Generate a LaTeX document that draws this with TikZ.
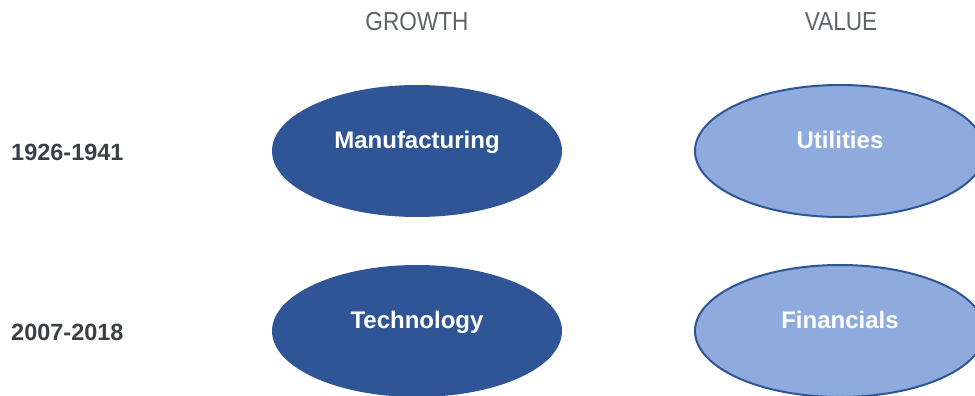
\documentclass[tikz,border=0pt]{standalone}
\usepackage{fontspec}
\setmainfont{Liberation Sans}
\newfontfamily\headfont[FakeStretch=0.87]{Liberation Sans}
\usepackage{xcolor}
\usepackage{tikz}
\usetikzlibrary{shapes.geometric, positioning}
\definecolor{growthblue}{RGB}{47, 85, 151}
\definecolor{valueblue}{RGB}{143, 170, 220}
\definecolor{periodgray}{RGB}{60, 64, 69}
\definecolor{headgray}{RGB}{95, 99, 104}

\begin{document}
\begin{tikzpicture}[
    x=1pt, y=-1pt,
    sector/.style={ellipse, minimum width=290pt, minimum height=132pt, inner sep=0pt, text=white, font=\fontsize{24}{28}\selectfont\bfseries},
    growth/.style={sector, fill=growthblue},
    value/.style={sector, fill=valueblue, draw=growthblue, line width=2pt},
    period/.style={anchor=west, text=periodgray, inner sep=0pt, font=\fontsize{23.5}{28}\selectfont\bfseries},
    head/.style={text=headgray, inner sep=0pt, font=\headfont\fontsize{26}{30}\selectfont}
]
    \useasboundingbox (0,0) rectangle (975,396);

    \node[head] (growthhead) at (417,22) {GROWTH};
    \node[head] (valuehead) at (841,22) {VALUE};

    \node[period] (early) at (11,152) {1926-1941};
    \node[period] (late) at (11,332) {2007-2018};

    \node[growth] (manu) at (417,151) {\raisebox{3pt}[0pt][0pt]{Manufacturing}};
    \node[value] (util) at (840,151) {\raisebox{3pt}[0pt][0pt]{Utilities}};
    \node[growth] (tech) at (417,331) {\raisebox{3pt}[0pt][0pt]{Technology}};
    \node[value] (fin) at (840,331) {\raisebox{3pt}[0pt][0pt]{Financials}};
\end{tikzpicture}
\end{document}
